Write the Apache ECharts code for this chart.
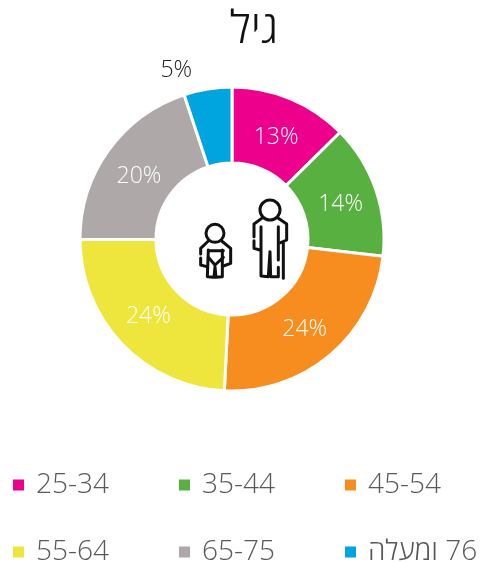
<!DOCTYPE html>
<html><head><meta charset="utf-8">
<style>html,body{margin:0;padding:0;background:#fff}#c{width:485px;height:564px}</style>
<script src="https://cdn.jsdelivr.net/npm/echarts@6/dist/echarts.min.js"></script>
</head><body><div id="c"></div>
<script>
const titleText = 'גיל';
const categories = ['25-34','35-44','45-54','55-64','65-75','76 ומעלה'];
const values = [12.6,14.2,24.0,24.15,19.95,5.1];
const colors = ['#EC008C','#57B040','#F78D1F','#EFE63D','#AEA9A8','#00A4DE'];
const FONT = '"Open Sans","Noto Sans",sans-serif';

const legendSpots = [[11,471],[177,471],[343,471],[11,538],[177,538],[343,538]];
const legends = categories.map((c,i)=>({
  data:[c], left:legendSpots[i][0], top:legendSpots[i][1], padding:0,
  itemWidth:13, itemHeight:13, itemGap:0, icon:'rect',
  formatter:n=>'\u200F'+n,
  textStyle:{fontFamily:FONT,fontWeight:300,fontSize:28,color:'#595959',padding:[0,0,0,6]},
  selectedMode:false
}));

// decorative people icon
const z = p => p.map(([x,y])=>[x/3+180,y/3+180]);
const iconLines = [
  [[245,115],[222,132],[222,170]],
  [[222,182],[222,205],[240,210]],
  [[243,140],[243,288],[265,290],[270,215],[272,290],[295,290],[295,262]],
  [[295,140],[295,240]],
  [[295,115],[320,132],[320,180],[302,188]],
  [[310,190],[310,295]],
  [[85,183],[62,205],[62,222]],
  [[62,234],[62,255],[80,260]],
  [[85,210],[82,290],[102,292],[105,260],[108,292],[127,290],[127,210]],
  [[85,212],[130,212]],
  [[85,232],[105,255],[130,232]],
  [[125,183],[152,205],[152,250],[130,258]]
];
const iconHeads = [[270,90,30],[105,160,27]];
const graphicEls = [
  ...iconLines.map(l=>({type:'polyline',shape:{points:z(l)},style:{fill:null,stroke:'#111',lineWidth:3,lineCap:'round',lineJoin:'round'}})),
  ...iconHeads.map(([x,y,r])=>({type:'circle',shape:{cx:x/3+180,cy:y/3+180,r:r/3},style:{fill:'#fff',stroke:'#111',lineWidth:3}}))
];

const labelOffsets = [[-1,6],[-2,4],[-3,1],[1,-3],[2,6],[-37,-53]];
const chart = echarts.init(document.getElementById('c'),null,{renderer:'canvas'});
chart.setOption({
  animation:false,
  backgroundColor:'#fff',
  title:{text:titleText,left:249,top:3,textAlign:'center',textStyle:{fontFamily:FONT,fontWeight:300,fontSize:45,color:'#111'}},
  legend:legends,
  graphic:graphicEls,
  series:[{
    type:'pie',
    center:[232,239],
    radius:[76,152],
    startAngle:90,
    silent:true,
    itemStyle:{borderColor:'#fff',borderWidth:3},
    label:{position:'inside',formatter:p=>Math.round(p.value)+'%',color:'#fff',fontFamily:FONT,fontWeight:300,fontSize:23},
    labelLine:{show:false},
    data:categories.map((c,i)=>({
      name:c,value:values[i],itemStyle:{color:colors[i]},
      label:{offset:labelOffsets[i],color:i===5?'#222':'#fff'}
    }))
  }]
});
</script></body></html>
